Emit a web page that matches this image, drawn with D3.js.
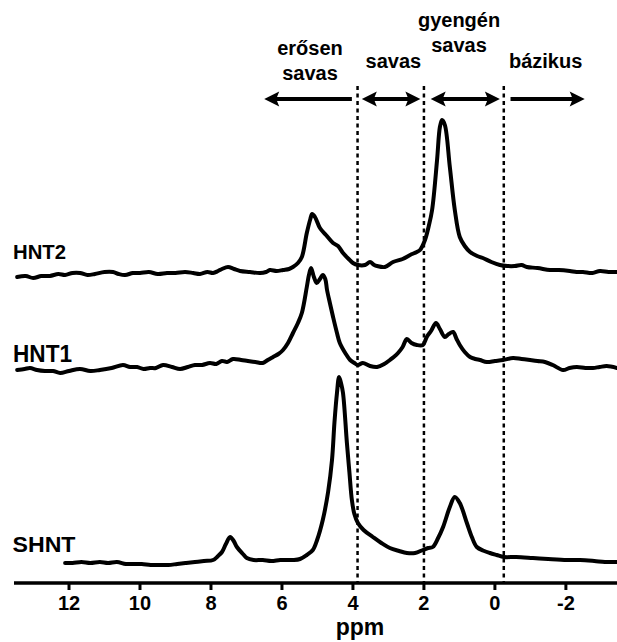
<!DOCTYPE html>
<html>
<head>
<meta charset="utf-8">
<script src="https://cdn.jsdelivr.net/npm/d3@7"></script>
<style>
  html, body { margin: 0; padding: 0; background: #fff; }
  svg text { font-family: Arial, "Liberation Sans", sans-serif; font-weight: bold; fill: #000; }
</style>
</head>
<body>
<svg id="chart" width="617" height="642"></svg>
<script>
// ---------- DATA ----------
const seriesNames = ["HNT2", "HNT1", "SHNT"];
const seriesOffsets = [312, 216, 21];

const hnt2Ppm = [13.46,13.22,13.01,12.78,12.54,12.30,12.11,11.90,11.69,11.48,11.27,11.00,10.76,10.60,10.42,10.20,10.00,9.75,9.50,9.24,9.00,8.73,8.50,8.31,8.10,7.94,7.80,7.69,7.52,7.35,7.18,6.90,6.62,6.45,6.34,6.15,5.97,5.80,5.69,5.55,5.44,5.30,5.20,5.15,5.07,4.93,4.76,4.56,4.42,4.28,4.12,4.00,3.86,3.66,3.52,3.40,3.32,3.10,2.87,2.60,2.39,2.20,2.11,1.97,1.87,1.77,1.63,1.55,1.49,1.41,1.27,1.13,0.99,0.85,0.70,0.50,0.34,0.10,-0.14,-0.35,-0.56,-0.75,-0.90,-1.20,-1.55,-1.80,-2.11,-2.30,-2.48,-2.75,-2.96,-3.20,-3.44];
const hnt2Val = [-6,-5,-7,-5,-5,-3,-4,-2,-2,-4,-3,-1,-1,-3,-4,-2,-2,-1,-3,-2,-2,-1,-2,-3,-1,-2,0,2,4,2,0,-1,-2,-1,1,0,1,2,4,8,14,38,52,57,54,43,36,28,25,18,12,8,6,6,9,6,5,4,9,12,16,19,21,31,44,61,111,144,151,146,104,61,34,25,19,15,13,9,6,5,5,6,4,3,1,1,0,-1,-1,-2,0,-1,-1];

const hnt1Ppm = [13.46,13.25,13.10,12.90,12.68,12.45,12.25,12.00,11.69,11.40,11.13,10.80,10.48,10.28,10.08,9.90,9.72,9.55,9.35,9.10,8.87,8.65,8.45,8.25,8.03,7.85,7.69,7.55,7.38,7.15,6.96,6.75,6.54,6.40,6.25,6.10,5.97,5.83,5.69,5.55,5.44,5.30,5.24,5.18,5.10,5.02,4.93,4.85,4.78,4.73,4.65,4.56,4.45,4.37,4.20,4.08,3.96,3.86,3.72,3.52,3.32,3.12,2.96,2.85,2.73,2.60,2.48,2.35,2.20,2.03,1.92,1.80,1.66,1.55,1.41,1.30,1.18,1.08,0.99,0.85,0.70,0.55,0.42,0.23,0.00,-0.23,-0.51,-0.75,-0.99,-1.20,-1.41,-1.63,-1.92,-2.10,-2.31,-2.55,-2.76,-2.95,-3.15,-3.44];
const hnt1Val = [-3,-2,-1,-3,-4,-4,-6,-4,-2,-4,-3,-1,2,0,0,-2,-1,-1,2,0,-2,0,2,2,4,3,6,5,8,7,6,5,4,7,10,13,17,24,34,44,54,80,92,99,90,84,88,92,88,77,64,50,34,24,13,7,4,2,4,1,0,3,7,10,14,20,28,24,22,22,30,36,44,38,30,33,35,28,22,15,10,8,7,5,6,7,9,8,7,6,5,2,-3,-1,0,-1,-1,0,1,-1];

const shntPpm = [12.11,11.90,11.65,11.40,11.13,10.90,10.65,10.40,10.20,9.95,9.70,9.44,9.20,8.95,8.70,8.45,8.20,7.94,7.80,7.69,7.58,7.46,7.36,7.27,7.10,6.99,6.80,6.54,6.30,6.05,5.85,5.69,5.49,5.30,5.13,5.01,4.85,4.70,4.59,4.52,4.45,4.39,4.33,4.28,4.17,4.10,4.03,3.96,3.86,3.70,3.44,3.20,2.96,2.70,2.48,2.25,2.03,1.88,1.75,1.60,1.46,1.27,1.13,0.99,0.79,0.65,0.51,0.30,0.14,-0.05,-0.25,-0.60,-1.07,-1.50,-2.03,-2.40,-2.80,-3.10,-3.44];
const shntVal = [-1,-1,0,-1,0,-1,0,-2,-2,-2,-3,-3,-3,-2,-1,0,1,2,6,10,18,25,21,15,8,4,2,2,1,2,2,2,3,7,12,22,42,70,102,140,169,185,178,169,119,90,62,48,39,32,25,19,14,11,9,9,12,14,15,24,35,55,65,59,39,25,15,11,9,7,5,5,4,3,2,2,1,0,0];

const seriesPpm = [hnt2Ppm, hnt1Ppm, shntPpm];
const seriesVal = [hnt2Val, hnt1Val, shntVal];

const tickValues = [12, 10, 8, 6, 4, 2, 0, -2];
const axisTitle = "ppm";
const boundaries = [3.87, 2.0, -0.25];
const regionLabels = [["erősen", "savas"], ["savas"], ["gyengén", "savas"], ["bázikus"]];
// arrows: [fromPpm, toPpm, headAtStart, headAtEnd]
const arrows = [[4.03, 6.50, false, true], [3.75, 2.10, true, true], [1.81, -0.14, true, true], [-0.44, -2.53, false, true]];

// ---------- LAYOUT ----------
const svg = d3.select("#chart");
const x = d3.scaleLinear().domain([13.55, -3.44]).range([14, 617]);
const y = d3.scaleLinear().domain([0, 583]).range([583, 0]);
const axisY = 583;

// dashed boundaries
svg.selectAll("line.bound").data(boundaries).enter().append("line")
  .attr("x1", d => x(d)).attr("x2", d => x(d))
  .attr("y1", 86).attr("y2", axisY)
  .attr("stroke", "#000").attr("stroke-width", 2.5)
  .attr("stroke-dasharray", "4,3.5");

// spectra
const line = d3.line().curve(d3.curveCatmullRom.alpha(0.5));
seriesNames.forEach((name, i) => {
  const pts = seriesPpm[i].map((p, j) => [x(p), y(seriesOffsets[i] + seriesVal[i][j])]);
  svg.append("path").attr("d", line(pts))
    .attr("fill", "none").attr("stroke", "#000").attr("stroke-width", 4)
    .attr("stroke-linejoin", "round").attr("stroke-linecap", "round");
});

// series labels
const labelStyle = [
  {x: 13, y: 259, size: 19.5, len: 53},
  {x: 13, y: 361.5, size: 24, len: 59},
  {x: 12.5, y: 551.5, size: 21.5, len: 63}
];
seriesNames.forEach((name, i) => {
  svg.append("text").text(name)
    .attr("x", labelStyle[i].x).attr("y", labelStyle[i].y)
    .attr("font-size", labelStyle[i].size)
    .attr("textLength", labelStyle[i].len)
    .attr("lengthAdjust", "spacingAndGlyphs");
});

// x axis
svg.append("line").attr("x1", 14).attr("x2", 617).attr("y1", axisY).attr("y2", axisY)
  .attr("stroke", "#000").attr("stroke-width", 3.4);
svg.selectAll("line.tick").data(tickValues).enter().append("line")
  .attr("x1", d => x(d)).attr("x2", d => x(d))
  .attr("y1", axisY).attr("y2", axisY + 7)
  .attr("stroke", "#000").attr("stroke-width", 3);
svg.selectAll("text.tick").data(tickValues).enter().append("text")
  .attr("x", d => x(d)).attr("y", 610)
  .attr("text-anchor", "middle").attr("font-size", 20)
  .text(d => String(d));
svg.append("text").attr("x", 360).attr("y", 635)
  .attr("text-anchor", "middle").attr("font-size", 23).text(axisTitle);

// region labels
const regionLabelPos = [
  {ppm: 5.21, y: [55, 80]},
  {ppm: 2.86, y: [68]},
  {ppm: 1.01, y: [27, 52]},
  {ppm: -1.43, y: [68]}
];
regionLabels.forEach((lines, i) => {
  lines.forEach((t, k) => {
    svg.append("text").text(t)
      .attr("x", x(regionLabelPos[i].ppm)).attr("y", regionLabelPos[i].y[k])
      .attr("text-anchor", "middle").attr("font-size", 20);
  });
});

// arrows
const arrowY = 99;
function head(px, dir) {
  const L = 15, W = 7.5;
  return `M${px},${arrowY} L${px - dir * L},${arrowY - W} L${px - dir * L * 0.8},${arrowY} L${px - dir * L},${arrowY + W} Z`;
}
arrows.forEach(a => {
  const x1 = x(a[0]), x2 = x(a[1]);
  const dir = Math.sign(x2 - x1);
  svg.append("line")
    .attr("x1", x1 + (a[2] ? dir * 10 : 0)).attr("x2", x2 - (a[3] ? dir * 10 : 0))
    .attr("y1", arrowY).attr("y2", arrowY)
    .attr("stroke", "#000").attr("stroke-width", 4);
  if (a[3]) svg.append("path").attr("d", head(x2, dir)).attr("fill", "#000");
  if (a[2]) svg.append("path").attr("d", head(x1, -dir)).attr("fill", "#000");
});
</script>
</body>
</html>
